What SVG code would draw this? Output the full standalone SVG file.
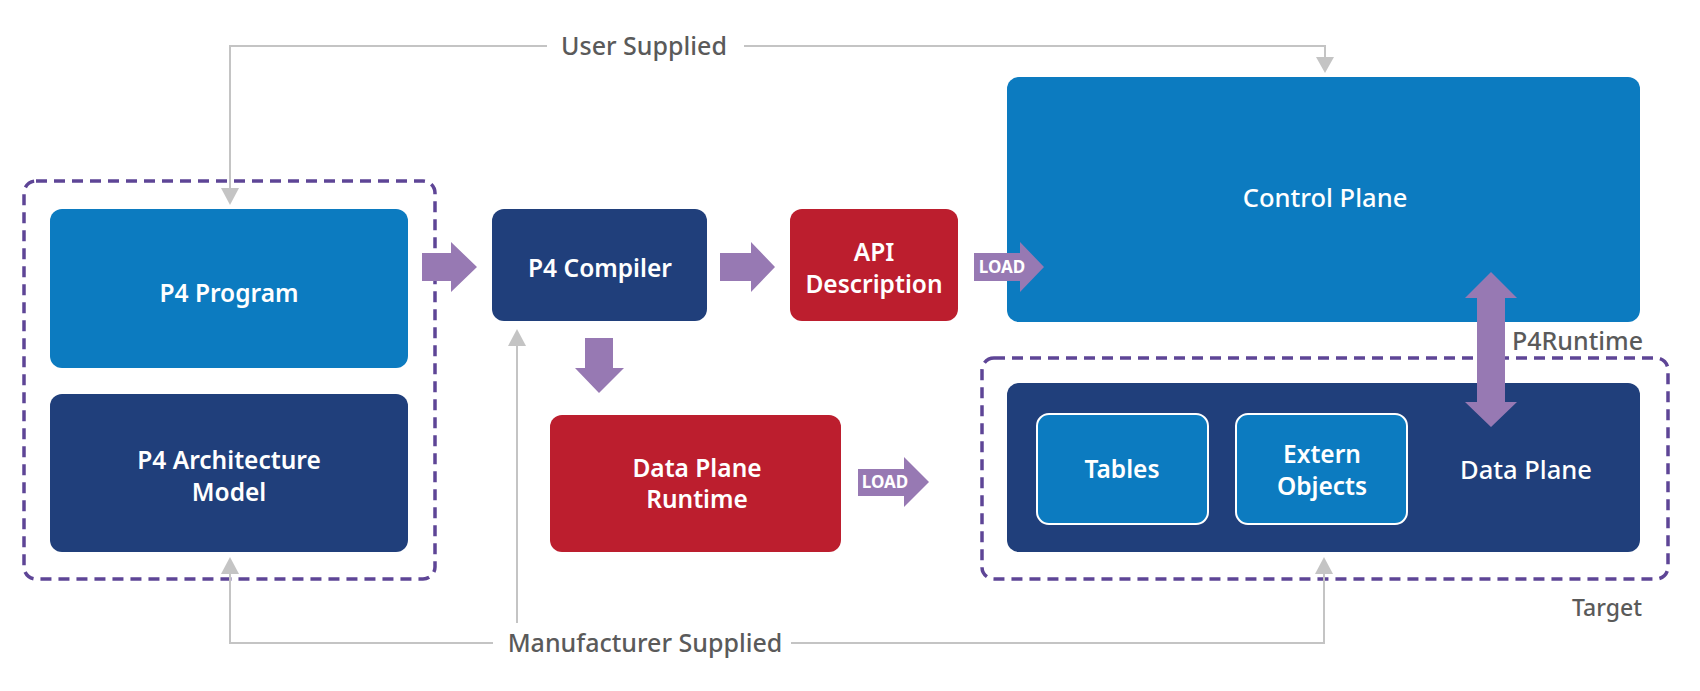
<svg xmlns="http://www.w3.org/2000/svg" width="1700" height="691" viewBox="0 0 1700 691">
<defs>
<style>
.lb{fill:#0C7BC0}
.nv{fill:#203F7B}
.rd{fill:#BC1E2E}
.pa{fill:#9779B3}
.dash{fill:none;stroke:#5E4596;stroke-width:3.5;stroke-dasharray:11 7}
.gl{fill:none;stroke:#C4C4C4;stroke-width:2}
.gh{fill:#C4C4C4}
.bt{font-family:"Noto Sans","Liberation Sans",sans-serif;font-weight:600;font-size:24.5px;fill:#fff;text-anchor:middle}
.mt{font-family:"Noto Sans","Liberation Sans",sans-serif;font-weight:500;font-size:25.5px;fill:#fff;text-anchor:middle}
.gt{font-family:"Noto Sans","Liberation Sans",sans-serif;font-weight:500;font-size:25px;fill:#5A5A5A}
.ld{font-family:"Noto Sans","Liberation Sans",sans-serif;font-weight:700;font-size:17px;fill:#fff;text-anchor:middle}
</style>
</defs>
<rect width="1700" height="691" fill="#fff"/>

<g id="p4-group">
<rect class="dash" x="24" y="181" width="411" height="398" rx="12"/>
</g>
<g id="target-group">
<rect class="dash" x="982" y="358" width="686" height="221" rx="12"/>
<text class="gt" x="1642" y="616" text-anchor="end" style="font-size:23px">Target</text>
</g>

<g id="p4-program">
<rect class="lb" x="50" y="209" width="358" height="159" rx="12"/>
<text class="bt" x="229" y="302">P4 Program</text>
</g>
<g id="p4-arch">
<rect class="nv" x="50" y="394" width="358" height="158" rx="12"/>
<text class="bt" x="229" y="469">P4 Architecture</text>
<text class="bt" x="229" y="501">Model</text>
</g>
<g id="p4-compiler">
<rect class="nv" x="492" y="209" width="215" height="112" rx="12"/>
<text class="bt" x="600" y="277">P4 Compiler</text>
</g>
<g id="api-desc">
<rect class="rd" x="790" y="209" width="168" height="112" rx="12"/>
<text class="bt" x="874" y="261">API</text>
<text class="bt" x="874" y="293">Description</text>
</g>
<g id="dp-runtime">
<rect class="rd" x="550" y="415" width="291" height="137" rx="12"/>
<text class="bt" x="697" y="477">Data Plane</text>
<text class="bt" x="697" y="508">Runtime</text>
</g>
<g id="control-plane">
<rect class="lb" x="1007" y="77" width="633" height="245" rx="12"/>
<text class="mt" x="1325" y="207">Control Plane</text>
</g>
<g id="data-plane">
<rect class="nv" x="1007" y="383" width="633" height="169" rx="12"/>
<text class="mt" x="1526" y="479">Data Plane</text>
</g>
<g id="tables">
<rect class="lb" x="1037" y="414" width="171" height="110" rx="12" stroke="#fff" stroke-width="2"/>
<text class="bt" x="1122" y="478">Tables</text>
</g>
<g id="extern-objects">
<rect class="lb" x="1236" y="414" width="171" height="110" rx="12" stroke="#fff" stroke-width="2"/>
<text class="bt" x="1322" y="463">Extern</text>
<text class="bt" x="1322" y="495">Objects</text>
</g>

<g id="connectors">
<polygon class="pa" points="422,253 451,253 451,242 477,267 451,292 451,281 422,281"/>
<polygon class="pa" points="720,253 751,253 751,242 775,267 751,292 751,281 720,281"/>
<polygon class="pa" points="974,253 1020,253 1020,242 1044,267 1020,292 1020,281 974,281"/>
<text class="ld" x="1002" y="273">LOAD</text>
<polygon class="pa" points="858,469 904,469 904,457 929,482 904,507 904,496 858,496"/>
<text class="ld" x="885" y="488">LOAD</text>
<polygon class="pa" points="585,338 613,338 613,368 624,368 599,393 575,368 585,368"/>
<polygon class="pa" points="1491,272 1517,298 1505,298 1505,402 1517,402 1491,427 1465,402 1477,402 1477,298 1465,298"/>
<text class="gt" x="1512" y="350">P4Runtime</text>

<path class="gl" d="M230,188 V46 H547 M744,46 H1325 V57"/>
<polygon class="gh" points="221,188 239,188 230,205"/>
<polygon class="gh" points="1316,57 1334,57 1325,73"/>
<text class="gt" x="644" y="55" text-anchor="middle">User Supplied</text>

<path class="gl" d="M230,574 V643 H493 M791,643 H1324 V574 M517,346 V623"/>
<polygon class="gh" points="221,574 239,574 230,557"/>
<polygon class="gh" points="1315,574 1333,574 1324,557"/>
<polygon class="gh" points="508,346 526,346 517,329"/>
<text class="gt" x="645" y="652" text-anchor="middle">Manufacturer Supplied</text>
</g>
</svg>
